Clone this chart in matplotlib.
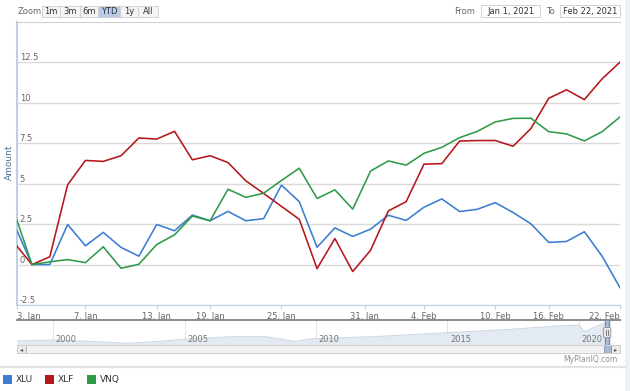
import matplotlib.pyplot as plt
from matplotlib.patches import Rectangle, FancyBboxPatch
from matplotlib.lines import Line2D

# trading-day index: -1 = 31 Dec 2020, 0 = 4 Jan 2021 ... 33 = 22 Feb 2021
days = list(range(-1, 34))
xlu = [2.5, 0.0, 0.0, 2.48, 1.16, 1.99, 1.06, 0.52, 2.48, 2.09, 3.06, 2.71,
       3.29, 2.71, 2.84, 4.91, 3.89, 1.07, 2.27, 1.74, 2.19, 3.05, 2.73, 3.55,
       4.06, 3.28, 3.42, 3.83, 3.22, 2.52, 1.37, 1.43, 2.03, 0.51, -1.43]
xlf = [1.35, 0.0, 0.48, 4.93, 6.44, 6.38, 6.73, 7.83, 7.76, 8.24, 6.48, 6.73,
       6.31, 5.18, 4.4, 3.6, 2.80, -0.25, 1.61, -0.43, 0.88, 3.32, 3.89, 6.21,
       6.24, 7.64, 7.67, 7.67, 7.32, 8.41, 10.28, 10.81, 10.2, 11.49, 12.52]
vnq = [3.25, 0.0, 0.17, 0.31, 0.12, 1.10, -0.23, 0.02, 1.24, 1.84, 3.0, 2.71,
       4.66, 4.16, 4.41, 5.2, 5.96, 4.09, 4.62, 3.43, 5.78, 6.41, 6.15, 6.88,
       7.25, 7.85, 8.24, 8.82, 9.04, 9.05, 8.22, 8.08, 7.65, 8.22, 9.13]
series = ['XLU', 'XLF', 'VNQ']
colors = ['#3b7dd0', '#b5161c', '#2f9a48']

x_start = -0.84
tick_pos = [x_start, 3, 7, 10, 14, 18.67, 22, 26, 29, 33]
tick_labels = ['3. Jan', '7. Jan', '13. Jan', '19. Jan', '25. Jan', '31. Jan',
               '4. Feb', '10. Feb', '16. Feb', '22. Feb']
y_ticks = [-2.5, 0, 2.5, 5, 7.5, 10, 12.5]
y_labels = ['-2.5', '0', '2.5', '5', '7.5', '10', '12.5']

# navigator (long history, rough shape)
nav_years = [1998.63, 1999.0, 2000.0, 2001.5, 2002.8, 2004.0, 2005.0, 2006.8,
             2008.1, 2009.2, 2009.7, 2010.0, 2012.2, 2015.0, 2017.4, 2018.8,
             2020.0, 2020.2, 2020.7, 2021.0, 2021.14]
nav_vals = [4.0, 4.3, 5.0, 3.5, 1.7, 3.5, 5.7, 8.3, 8.3, 3.5, 5.7, 6.3, 8.3,
            12.3, 15.7, 18.3, 20.0, 13.3, 19.0, 21.7, 21.5]
nav_ticks = [2000, 2005, 2010, 2015, 2020]
nav_range = [2021.0, 2021.14]
nav_lim = [1998.63, 2021.56]

W, H = 630, 391


def fx(px):
    return px / W


def fy(py):
    return 1 - py / H


fig = plt.figure(figsize=(W / 100, H / 100), dpi=100)

# right side strip
fig.patches.append(Rectangle((fx(625), 0), 1 - fx(625), 1, transform=fig.transFigure,
                             facecolor='#edf2f8', edgecolor='none'))

# main plot
ax = fig.add_axes([fx(17), fy(305), fx(620) - fx(17), fy(22) - fy(305)])
for name, vals, c in zip(series, [xlu, xlf, vnq], colors):
    ax.plot(days, vals, color=c, lw=1.15, label=name, zorder=3)
ax.set_xlim(x_start, 33)
ax.set_ylim(-2.5, 15)
for v, lab in zip(y_ticks, y_labels):
    ax.axhline(v, color='#dadada', lw=1.0, zorder=1)
    ax.annotate(lab, xy=(0, v), xycoords=('axes fraction', 'data'), xytext=(2, 0),
                textcoords='offset points', ha='left', va='bottom', fontsize=6, color='#666666')
ax.set_yticks([])
ax.set_xticks(tick_pos)
ax.set_xticklabels(tick_labels, fontsize=6, color='#666666')
tl = ax.get_xticklabels()
tl[0].set_ha('left')
tl[-1].set_ha('right')
ax.tick_params(axis='x', length=3, width=0.8, color='#c0d0e0', pad=2)
ax.spines['right'].set_visible(False)
ax.spines['left'].set_color('#c0d0e0')
ax.spines['left'].set_linewidth(1.5)
ax.spines['bottom'].set_color('#c0d0e0')
ax.spines['top'].set_color('#d0d0d0')
fig.text(fx(9.5), fy(162), 'Amount', rotation=90, ha='center', va='center',
         fontsize=6.5, color='#4d6f94')

# navigator
nav = fig.add_axes([fx(17), fy(345), fx(620) - fx(17), fy(320) - fy(345)])
nav.set_xlim(*nav_lim)
nav.set_ylim(0, 25)
for yr in nav_ticks:
    nav.axvline(yr, color='#e4e4e4', lw=0.8, zorder=0)
    nav.text(yr + 0.1, 1.0, str(yr), fontsize=6, color='#777777', ha='left', va='bottom', zorder=4)
nav.fill_between(nav_years, nav_vals, color='#e4eaf2', lw=0, zorder=1)
nav.plot(nav_years, nav_vals, color='#cdd8e5', lw=0.8, zorder=2)
nav.axvspan(nav_range[0], nav_range[1], color='#7f9fcf', alpha=0.55, zorder=3)
nav.plot([nav_range[0]] * 2, [0, 25], color='#8a8a8a', lw=0.9, zorder=3)
nav.plot([nav_range[1]] * 2, [0, 25], color='#8a8a8a', lw=0.9, zorder=3)
mid = (nav_range[0] + nav_range[1]) / 2
nav.add_patch(FancyBboxPatch((mid - 0.14, 7.5), 0.28, 10,
                             boxstyle='round,pad=0,rounding_size=0.05',
                             facecolor='#ebe7e8', edgecolor='#9a9a9a', lw=0.7, zorder=5,
                             mutation_aspect=30))
for dx in (-0.05, 0.05):
    nav.plot([mid + dx] * 2, [10, 15], color='#666666', lw=0.6, zorder=6)
nav.set_xticks([])
nav.set_yticks([])
for s in ['left', 'right', 'bottom']:
    nav.spines[s].set_visible(False)
nav.spines['top'].set_color('#8a8a8a')
nav.spines['top'].set_linewidth(1.4)

# scrollbar
sb = fig.add_axes([fx(17), fy(353), fx(620) - fx(17), fy(345) - fy(353)])
sb.set_xlim(*nav_lim)
sb.set_ylim(0, 1)
sb.set_facecolor('#f2f2f2')
for s in sb.spines.values():
    s.set_color('#cfcfcf')
    s.set_linewidth(0.7)
sb.add_patch(Rectangle((nav_lim[0], 0), 0.34, 1, facecolor='#ebebeb', edgecolor='#b5b5b5', lw=0.7))
sb.add_patch(Rectangle((nav_lim[1] - 0.34, 0), 0.34, 1, facecolor='#ebebeb', edgecolor='#b5b5b5', lw=0.7))
sb.add_patch(Rectangle((nav_range[0] - 0.06, 0), 0.26, 1, facecolor='#a7b9d2', edgecolor='#8a9bb5', lw=0.7))
sb.text(nav_lim[0] + 0.17, 0.45, '\u25c2', fontsize=4.5, ha='center', va='center', color='#555555')
sb.text(nav_lim[1] - 0.17, 0.45, '\u25b8', fontsize=4.5, ha='center', va='center', color='#555555')
sb.set_xticks([])
sb.set_yticks([])

fig.text(fx(618), fy(359), 'MyPlanIQ.com', fontsize=5.5, color='#909090', ha='right', va='center')
fig.add_artist(Line2D([0, fx(625)], [fy(367), fy(367)], color='#e2e2e2', lw=1.5))

# range selector
fig.text(fx(18), fy(11), 'Zoom', fontsize=6, color='#666666', ha='left', va='center')
btn_labels = ['1m', '3m', '6m', 'YTD', '1y', 'All']
btn_edges = [42, 60, 80, 98, 120, 138, 158]
for i, lab in enumerate(btn_labels):
    x0, x1 = btn_edges[i], btn_edges[i + 1]
    fc = '#b7cce9' if lab == 'YTD' else '#f4f4f4'
    fig.patches.append(Rectangle((fx(x0), fy(16.5)), fx(x1 - x0), fy(6) - fy(16.5),
                                 transform=fig.transFigure, facecolor=fc,
                                 edgecolor='#cfcfcf', lw=0.6))
    fig.text(fx((x0 + x1) / 2), fy(11.2), lab, fontsize=6, color='#333333',
             ha='center', va='center')

fig.text(fx(475), fy(11), 'From', fontsize=6, color='#666666', ha='right', va='center')
fig.text(fx(555), fy(11), 'To', fontsize=6, color='#666666', ha='right', va='center')
for (x0, x1), txt in zip([(481, 540), (560, 620)], ['Jan 1, 2021', 'Feb 22, 2021']):
    fig.patches.append(Rectangle((fx(x0), fy(17)), fx(x1 - x0), fy(5) - fy(17),
                                 transform=fig.transFigure, facecolor='white',
                                 edgecolor='#cccccc', lw=0.6))
    fig.text(fx((x0 + x1) / 2), fy(11.2), txt, fontsize=6, color='#333333',
             ha='center', va='center')

# legend
for i, (name, c) in enumerate(zip(series, colors)):
    x0 = 3 + 42 * i
    fig.patches.append(Rectangle((fx(x0), fy(384)), fx(9), fy(375) - fy(384),
                                 transform=fig.transFigure, facecolor=c, edgecolor='none'))
    fig.text(fx(x0 + 13), fy(379.5), name, fontsize=6.5, color='#333333',
             ha='left', va='center')

fig.savefig('out.png', dpi=100)
